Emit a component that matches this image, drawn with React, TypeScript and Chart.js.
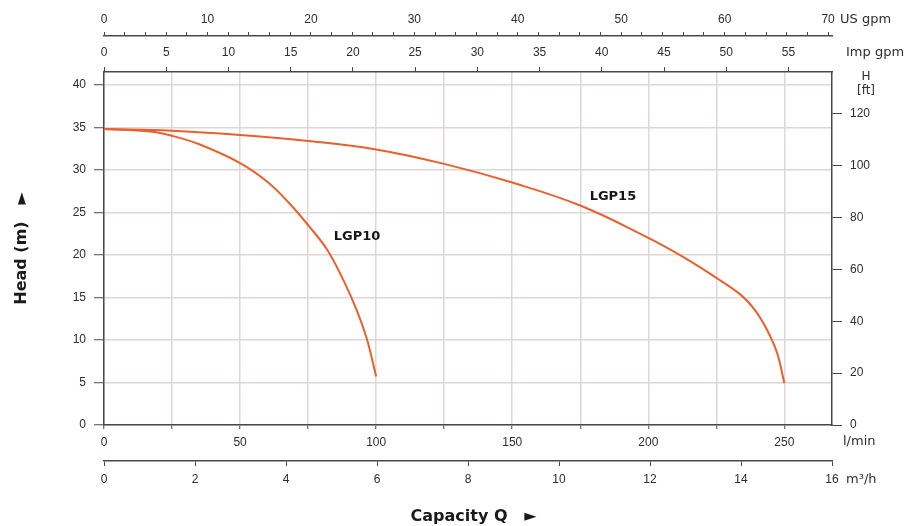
import { useEffect, useRef } from "react"
import { Chart, registerables } from "chart.js"

Chart.register(...registerables)

// pump curves, flow in l/min, head in m
const lgp10Flow = [0, 17, 25, 35, 50, 60, 68, 75, 82, 88, 93, 96.6, 100]
const lgp10Head = [34.8, 34.5, 34.0, 33.0, 30.8, 28.6, 26.1, 23.5, 20.6, 17.0, 13.4, 10.1, 5.7]
const lgp15Flow = [0, 25, 50, 75, 100, 125, 150, 175, 200, 212, 225, 234, 239, 243.6, 247.3, 250]
const lgp15Head = [34.8, 34.6, 34.1, 33.4, 32.4, 30.7, 28.5, 25.8, 22.0, 19.9, 17.3, 15.3, 13.6, 11.2, 8.5, 4.9]

const curveNames = ["LGP10", "LGP15"]
const curveLabelFlow = [93, 187]
const curveLabelHead = [22.2, 26.9]

// axis ranges
const flowMax = 267.5
const headMax = 41.5
const m3hMax = 16
const impMax = 58.5
const usMax = 70.38
const ftMax = headMax * 3.28084

const AXIS = "#4f4747"
const GRID = "#e0d6d5"
const CURVE = "#e8612c"
const TICK = "#2e2e2e"
const tickFont = { family: "Liberation Sans", size: 12 }
const titleFont = { family: "DejaVu Sans", size: 16, weight: "bold" as const }

const textPlugin = {
  id: "pumpText",
  afterDraw(chart: any) {
    const { ctx, chartArea, scales } = chart
    ctx.save()
    ctx.textBaseline = "middle"
    ctx.textAlign = "center"
    ctx.fillStyle = "#151515"
    ctx.font = "bold 13px 'DejaVu Sans'"
    curveNames.forEach((name, i) => {
      ctx.fillText(name, scales.x.getPixelForValue(curveLabelFlow[i]), scales.y.getPixelForValue(curveLabelHead[i]))
    })
    ctx.fillStyle = TICK
    ctx.font = "13px 'DejaVu Sans'"
    const r = chartArea.right
    ctx.textAlign = "left"
    ctx.fillText("US gpm", r + 8, 20)
    ctx.fillText("Imp gpm", r + 14, 53)
    ctx.fillText("l/min", r + 11, 442)
    ctx.fillText("m³/h", r + 14, 480)
    ctx.textAlign = "center"
    ctx.font = "12px 'DejaVu Sans'"
    ctx.fillText("H", r + 34, 77)
    ctx.fillText("[ft]", r + 34, 91)
    ctx.restore()
  },
}

export default function App() {
  const chartRef = useRef<HTMLCanvasElement>(null)
  const chartInstance = useRef<Chart | null>(null)

  useEffect(() => {
    if (!chartRef.current) return
    if (chartInstance.current) chartInstance.current.destroy()

    chartInstance.current = new Chart(chartRef.current, {
      type: "line",
      data: {
        datasets: [
          {
            label: "LGP10",
            data: lgp10Flow.map((q, i) => ({ x: q, y: lgp10Head[i] })),
            borderColor: CURVE,
            borderWidth: 2,
            pointRadius: 0,
            tension: 0.4,
            xAxisID: "x",
            yAxisID: "y",
          },
          {
            label: "LGP15",
            data: lgp15Flow.map((q, i) => ({ x: q, y: lgp15Head[i] })),
            borderColor: CURVE,
            borderWidth: 2,
            pointRadius: 0,
            tension: 0.4,
            xAxisID: "x",
            yAxisID: "y",
          },
        ],
      },
      options: {
        responsive: false,
        animation: false,
        layout: { padding: 0 },
        plugins: {
          legend: { display: false },
          tooltip: { enabled: false },
        },
        scales: {
          x: {
            type: "linear",
            position: "bottom",
            weight: 0,
            min: 0,
            max: flowMax,
            ticks: {
              stepSize: 25,
              includeBounds: false,
              autoSkip: false,
              maxRotation: 0,
              padding: 6,
              color: TICK,
              font: tickFont,
              callback: (v: any) => (v % 50 === 0 ? v : ""),
            },
            grid: { color: GRID, lineWidth: 1.5, tickColor: AXIS, tickWidth: 1, tickLength: 4 },
            border: { color: AXIS, width: 1.5 },
            afterFit: (s: any) => {
              s.height = 36
            },
          },
          m3h: {
            type: "linear",
            position: "bottom",
            weight: 1,
            min: 0,
            max: m3hMax,
            ticks: { stepSize: 2, autoSkip: false, maxRotation: 0, padding: 6, color: TICK, font: tickFont },
            grid: { drawOnChartArea: false, tickColor: AXIS, tickLength: 5 },
            border: { color: AXIS, width: 1.5 },
            title: {
              display: true,
              text: "  Capacity Q   ►",
              font: titleFont,
              color: "#1a1a1a",
              padding: { top: 0, bottom: 0 },
            },
            afterFit: (s: any) => {
              s.height = 65
            },
          },
          imp: {
            type: "linear",
            position: "top",
            weight: 0,
            min: 0,
            max: impMax,
            ticks: { stepSize: 5, includeBounds: false, autoSkip: false, maxRotation: 0, padding: 7, color: TICK, font: tickFont },
            grid: { drawOnChartArea: false, tickColor: AXIS, tickLength: 5 },
            border: { color: AXIS, width: 1.5 },
            afterFit: (s: any) => {
              s.height = 36
            },
          },
          us: {
            type: "linear",
            position: "top",
            weight: 1,
            min: 0,
            max: usMax,
            ticks: {
              stepSize: 2,
              includeBounds: false,
              autoSkip: false,
              maxRotation: 0,
              padding: 5,
              color: TICK,
              font: tickFont,
              callback: (v: any) => (v % 10 === 0 ? v : ""),
            },
            grid: { drawOnChartArea: false, tickColor: AXIS, tickLength: 4 },
            border: { color: AXIS, width: 1.5 },
            afterFit: (s: any) => {
              s.height = 36
            },
          },
          y: {
            type: "linear",
            position: "left",
            min: 0,
            max: headMax,
            ticks: { stepSize: 5, includeBounds: false, autoSkip: false, padding: 8, color: TICK, font: tickFont },
            grid: { color: GRID, lineWidth: 1.5, tickColor: AXIS, tickWidth: 1, tickLength: 10 },
            border: { color: AXIS, width: 1.5 },
            title: {
              display: true,
              text: "Head (m)   ►",
              font: titleFont,
              color: "#1a1a1a",
              padding: { top: 12, bottom: 0 },
            },
            afterFit: (s: any) => {
              s.width = 104
            },
          },
          ft: {
            type: "linear",
            position: "right",
            min: 0,
            max: ftMax,
            ticks: { stepSize: 20, includeBounds: false, autoSkip: false, padding: 8, color: TICK, font: tickFont },
            grid: { drawOnChartArea: false, tickColor: AXIS, tickLength: 10 },
            border: { color: AXIS, width: 1.5 },
            afterFit: (s: any) => {
              s.width = 76
            },
          },
        },
      },
      plugins: [textPlugin],
    })

    return () => {
      if (chartInstance.current) {
        chartInstance.current.destroy()
        chartInstance.current = null
      }
    }
  }, [])

  return (
    <div style={{ position: "fixed", left: 0, top: 0, width: 908, height: 526, background: "#fff" }}>
      <canvas ref={chartRef} width={908} height={526} style={{ display: "block" }}></canvas>
    </div>
  )
}
